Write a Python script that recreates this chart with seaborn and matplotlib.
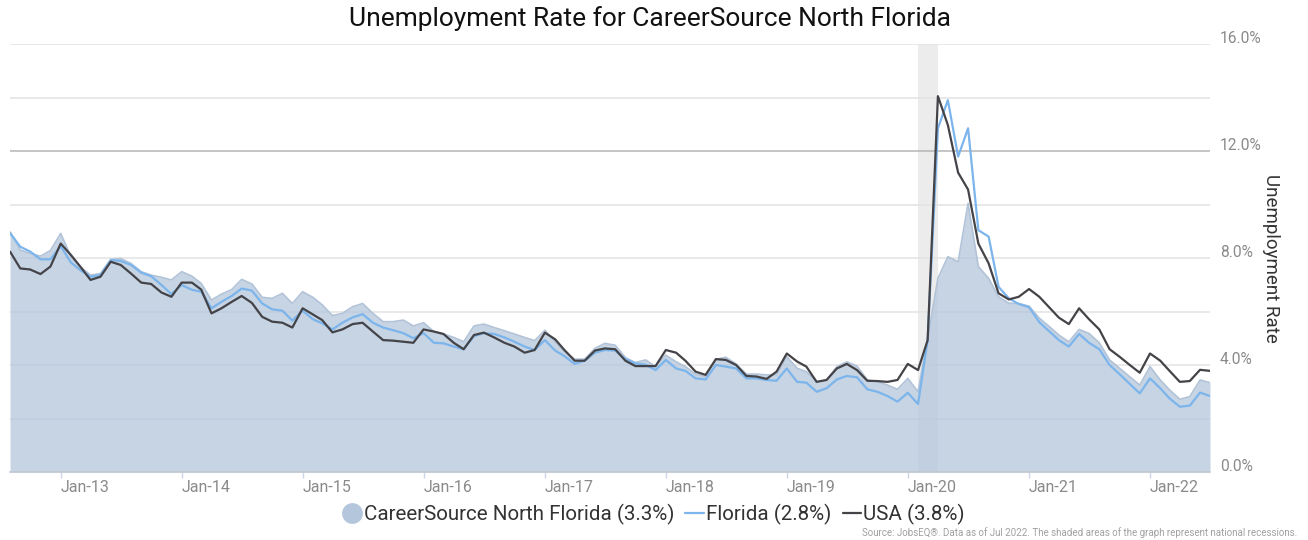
import pandas as pd
import seaborn as sns
import matplotlib.pyplot as plt
import matplotlib.dates as mdates
from matplotlib.lines import Line2D
from matplotlib.transforms import ScaledTranslation

# monthly values, Aug 2012 .. Jul 2022
START_MONTH = "2012-08-01"

careersource = [
    8.98, 8.30, 8.17, 8.07, 8.28, 8.92, 8.05, 7.68, 7.36, 7.42,
    7.95, 7.98, 7.80, 7.49, 7.36, 7.28, 7.18, 7.49, 7.32, 7.05,
    6.43, 6.65, 6.82, 7.20, 7.03, 6.53, 6.49, 6.68, 6.30, 6.74,
    6.53, 6.25, 5.85, 5.93, 6.18, 6.30, 5.93, 5.62, 5.62, 5.68,
    5.46, 5.58, 5.25, 5.16, 5.03, 4.87, 5.46, 5.53, 5.40, 5.28,
    5.16, 5.03, 4.91, 5.30, 4.87, 4.50, 4.22, 4.22, 4.62, 4.81,
    4.74, 4.28, 4.09, 4.19, 3.94, 4.37, 4.12, 3.94, 3.66, 3.56,
    4.21, 4.29, 4.04, 3.66, 3.66, 3.63, 3.63, 4.31, 3.88, 3.75,
    3.38, 3.44, 3.94, 4.12, 3.96, 3.44, 3.38, 3.25, 3.09, 3.50,
    3.00, 5.00, 7.24, 8.05, 7.86, 10.04, 7.68, 7.24, 6.55, 6.31,
    6.30, 6.20, 5.75, 5.46, 5.12, 4.87, 5.33, 5.18, 4.83, 4.19,
    3.88, 3.56, 3.25, 3.94, 3.44, 3.07, 2.72, 2.82, 3.44, 3.34,
]

florida = [
    8.94, 8.42, 8.24, 7.95, 7.95, 8.44, 7.83, 7.55, 7.30, 7.36,
    7.92, 7.89, 7.74, 7.45, 7.32, 6.99, 6.65, 6.99, 6.81, 6.74,
    6.12, 6.36, 6.58, 6.86, 6.78, 6.30, 6.08, 6.03, 5.66, 6.03,
    5.71, 5.56, 5.33, 5.58, 5.78, 5.90, 5.58, 5.40, 5.30, 5.19,
    5.00, 5.19, 4.83, 4.81, 4.69, 4.59, 5.08, 5.19, 5.16, 5.03,
    4.87, 4.69, 4.56, 4.93, 4.54, 4.33, 4.04, 4.16, 4.46, 4.56,
    4.54, 4.22, 4.06, 4.01, 3.81, 4.19, 3.87, 3.78, 3.50, 3.46,
    4.00, 3.94, 3.87, 3.50, 3.50, 3.44, 3.41, 3.87, 3.37, 3.34,
    3.00, 3.13, 3.46, 3.59, 3.54, 3.09, 3.00, 2.84, 2.63, 2.96,
    2.54, 4.93, 12.85, 13.90, 11.79, 12.85, 9.04, 8.80, 6.92, 6.49,
    6.28, 6.16, 5.60, 5.28, 4.93, 4.69, 5.16, 4.83, 4.59, 4.00,
    3.66, 3.29, 2.94, 3.50, 3.13, 2.75, 2.44, 2.48, 2.97, 2.84,
]

usa = [
    8.24, 7.61, 7.57, 7.40, 7.68, 8.54, 8.11, 7.68, 7.18, 7.30,
    7.86, 7.74, 7.42, 7.08, 7.03, 6.71, 6.55, 7.08, 7.08, 6.82,
    5.93, 6.12, 6.36, 6.58, 6.32, 5.80, 5.62, 5.58, 5.40, 6.12,
    5.89, 5.68, 5.22, 5.33, 5.53, 5.58, 5.25, 4.93, 4.91, 4.87,
    4.83, 5.33, 5.25, 5.16, 4.83, 4.59, 5.12, 5.21, 5.03, 4.83,
    4.69, 4.46, 4.56, 5.21, 4.96, 4.56, 4.16, 4.16, 4.54, 4.62,
    4.59, 4.16, 3.96, 3.96, 3.96, 4.56, 4.46, 4.16, 3.75, 3.63,
    4.22, 4.19, 4.00, 3.59, 3.57, 3.48, 3.75, 4.43, 4.13, 3.94,
    3.37, 3.44, 3.87, 4.04, 3.81, 3.41, 3.40, 3.37, 3.44, 4.04,
    3.81, 4.93, 14.05, 12.97, 11.19, 10.56, 8.54, 7.80, 6.68, 6.45,
    6.55, 6.84, 6.55, 6.18, 5.77, 5.53, 6.12, 5.71, 5.33, 4.59,
    4.31, 4.00, 3.71, 4.43, 4.16, 3.78, 3.37, 3.40, 3.82, 3.78,
]

recession = ("2020-02-01", "2020-04-01")
labels = ["CareerSource North Florida (3.3%)", "Florida (2.8%)", "USA (3.8%)"]

AREA_COLOR = "#b4c6dc"
FL_COLOR = "#7cb5ec"
US_COLOR = "#434348"


def main():
    dates = pd.date_range(START_MONTH, periods=len(usa), freq="MS")
    df = pd.DataFrame({"date": dates, "cs": careersource, "fl": florida, "us": usa})

    sns.set_theme(style="white")
    plt.rcParams["font.family"] = ["Roboto", "DejaVu Sans"]

    fig = plt.figure(figsize=(13.08, 5.4), dpi=100)
    ax = fig.add_axes([10 / 1308, 1 - 472 / 540, 1200 / 1308, 428 / 540])

    ax.axvspan(pd.Timestamp(recession[0]), pd.Timestamp(recession[1]),
               color="#ececec", lw=0, zorder=0)

    # grid every 2%, the 12% line a bit darker
    for v in range(2, 17, 2):
        c = "#b5b5b5" if v == 12 else "#e3e3e3"
        ax.axhline(v, color=c, lw=1.1, zorder=1)

    ax.fill_between(df["date"], 0, df["cs"], color=AREA_COLOR, alpha=0.75,
                    lw=0, zorder=2)
    ax.plot(df["date"], df["cs"], color="#b2c3d8", lw=1.2, zorder=2)

    sns.lineplot(data=df, x="date", y="fl", color=FL_COLOR, lw=1.6, ax=ax, zorder=3)
    sns.lineplot(data=df, x="date", y="us", color=US_COLOR, lw=1.6, ax=ax, zorder=4)

    ax.set_xlim(dates[0], dates[-1])
    ax.set_ylim(0, 16)

    for s in ["top", "left", "right"]:
        ax.spines[s].set_visible(False)
    ax.spines["bottom"].set_color("#c0c6ce")
    ax.spines["bottom"].set_linewidth(1.1)

    ax.xaxis.set_major_locator(mdates.YearLocator(month=1))
    ax.xaxis.set_major_formatter(mdates.DateFormatter("%b-%y"))
    ax.tick_params(axis="x", bottom=True, length=4, width=1, color="#ccd6eb",
                   pad=2, labelsize=11.5, labelcolor="#8a8a8a")
    for lab in ax.get_xticklabels():
        lab.set_ha("left")

    ax.yaxis.tick_right()
    ax.set_yticks([0, 4, 8, 12, 16])
    ax.set_yticklabels([f"{v:.1f}%" for v in [0, 4, 8, 12, 16]])
    ax.tick_params(axis="y", right=False, left=False, pad=1, labelsize=11.2,
                   labelcolor="#8a8a8a")
    shift = ScaledTranslation(0, 0.07, fig.dpi_scale_trans)
    for lab in ax.get_yticklabels():
        lab.set_transform(lab.get_transform() + shift)

    ax.set_xlabel("")
    ax.yaxis.set_label_position("right")
    ax.set_ylabel("Unemployment Rate", rotation=270, fontsize=13.5, color="#333333",
                  labelpad=13)

    fig.text(0.497, 0.966, "Unemployment Rate for CareerSource North Florida",
             ha="center", va="center", fontsize=19, color="#111111")

    handles = [
        Line2D([], [], marker="o", ls="none", markersize=15,
               markerfacecolor=AREA_COLOR, markeredgecolor="none"),
        Line2D([], [], color=FL_COLOR, lw=1.6),
        Line2D([], [], color=US_COLOR, lw=1.6),
    ]
    fig.legend(handles, labels, loc="center", bbox_to_anchor=(0.5, 1 - 514 / 540),
               ncol=3, frameon=False, fontsize=14.8, handlelength=0.9,
               handletextpad=0.1, columnspacing=0.55, labelcolor="#333333")

    fig.text(1297 / 1308, 1 - 533 / 540,
             "Source: JobsEQ®. Data as of Jul 2022. The shaded areas of the graph represent national recessions.",
             ha="right", va="center", fontsize=7.0, color="#a0a0a0")

    fig.savefig("out.png", dpi=100)


if __name__ == "__main__":
    main()
